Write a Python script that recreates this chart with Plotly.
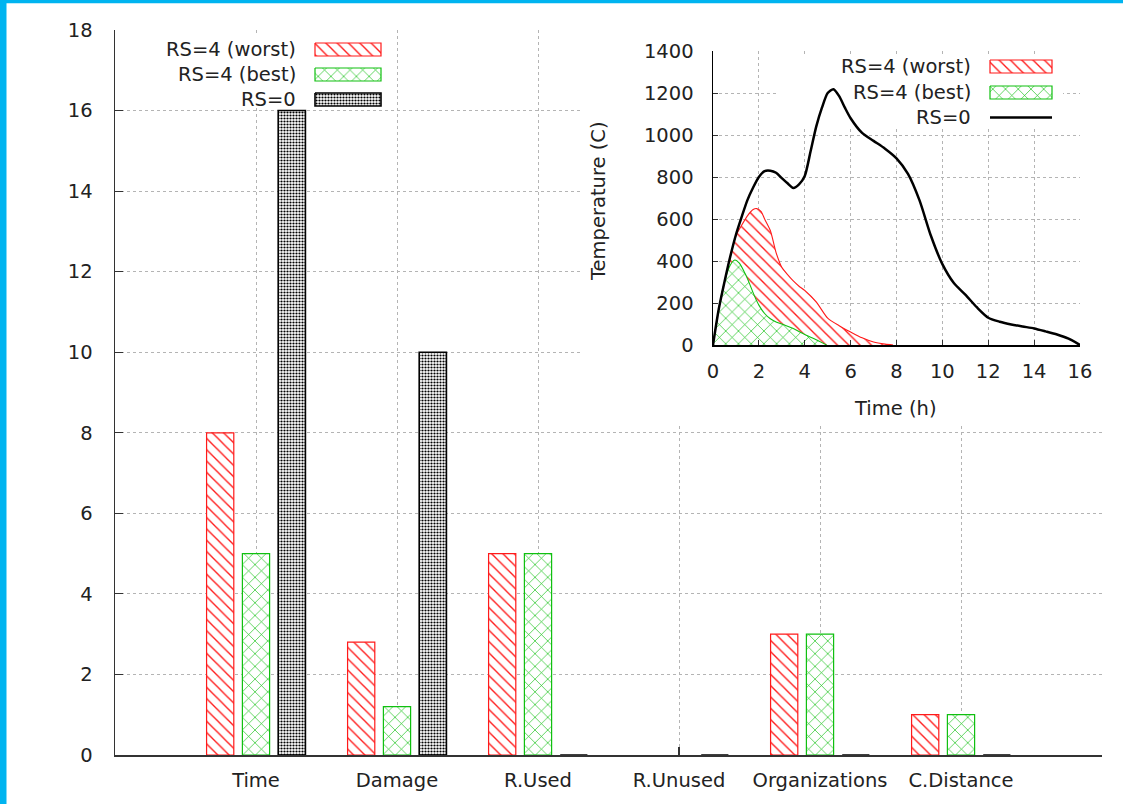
import plotly.graph_objects as go

# ---------------- data ----------------
categories = ["Time", "Damage", "R.Used", "R.Unused", "Organizations", "C.Distance"]
rs4_worst = [8, 2.8, 5, 0, 3, 1]
rs4_best = [5, 1.2, 5, 0, 3, 1]
rs0 = [16, 10, 0, 0, 0, 0]
series_names = ["RS=4 (worst)", "RS=4 (best)", "RS=0"]
main_y_ticks = list(range(0, 19, 2))

t_rs0 = [0, 0.25, 0.5, 0.75, 1, 1.25, 1.5, 1.75, 2, 2.25, 2.5, 2.75, 3, 3.25, 3.5, 3.75, 4, 4.25,
         4.5, 4.75, 5, 5.25, 5.5, 5.75, 6, 6.5, 7, 7.5, 8, 8.5, 9, 9.5, 10, 10.5, 11, 11.5, 12,
         12.5, 13, 13.5, 14, 14.5, 15, 15.5, 16]
temp_rs0 = [0, 170, 300, 420, 525, 610, 690, 750, 800, 828, 830, 820, 795, 770, 748, 765, 805, 920,
            1040, 1130, 1200, 1218, 1185, 1130, 1080, 1010, 972, 935, 889, 815, 690, 520, 385, 295,
            240, 180, 130, 111, 98, 88, 79, 65, 50, 30, 0]
t_worst = [0, 0.25, 0.5, 0.75, 1.0, 1.25, 1.5, 1.75, 1.9, 2.1, 2.25, 2.5, 2.75, 3.0, 3.25, 3.5,
           3.75, 4.0, 4.5, 5.0, 5.5, 6.0, 6.5, 7.0, 7.5, 7.85]
temp_worst = [0, 170, 300, 420, 520, 570, 615, 645, 650, 635, 600, 545, 440, 370, 335, 305, 280,
              260, 205, 128, 92, 62, 34, 14, 4, 0]
t_best = [0, 0.25, 0.5, 0.75, 0.95, 1.15, 1.4, 1.6, 1.8, 2.0, 2.25, 2.5, 2.75, 3.0, 3.5, 4.0, 4.5, 4.95]
temp_best = [0, 170, 300, 380, 405, 390, 340, 290, 235, 190, 150, 125, 110, 100, 78, 50, 25, 0]
inset_x_ticks = list(range(0, 17, 2))
inset_y_ticks = list(range(0, 1401, 200))

# ---------------- styling ----------------
W, H = 1123, 804
FONT = "DejaVu Sans"
TXT = "#222222"
RED = "#ff1a1a"
GREEN = "#10c010"
GRID = "#b4b4b4"
AXIS = "#333333"
FS = 19.5

red_pat = dict(shape="\\", fgcolor=RED, bgcolor="white", size=8, solidity=0.17, fillmode="replace")
green_pat = dict(shape="x", fgcolor=GREEN, bgcolor="white", size=9, solidity=0.14, fillmode="replace")
black_pat = dict(shape=".", fgcolor="black", bgcolor="white", size=3, solidity=0.42, fillmode="replace")

# pixel layout of the plotting areas
MAIN_X = (115, 1102)
MAIN_Y = (755, 30)
INS_X = (713, 1080)
INS_Y = (345, 51)


def dom_x(px):
    return [px[0] / W, px[1] / W]


def dom_y(py):
    return [1 - py[0] / H, 1 - py[1] / H]


def rect(x0, y0, x1, y1):
    return [x0, x1, x1, x0, x0], [y0, y0, y1, y1, y0]


def ins_px(xp, yp):
    # convert pixel location to inset data coordinates (for the opaque key box)
    t = (xp - INS_X[0]) / (INS_X[1] - INS_X[0]) * 16
    v = (INS_Y[0] - yp) / (INS_Y[0] - INS_Y[1]) * 1400
    return t, v


fig = go.Figure()

# ---------------- main bar chart (xy) ----------------
patterns = [red_pat, green_pat, black_pat]
colors = [RED, GREEN, "black"]
widths = [1.2, 1.2, 1.6]
for i, (name, vals, pat) in enumerate(zip(series_names, [rs4_worst, rs4_best, rs0], patterns)):
    # outlines of empty coloured bars are hidden behind the axis in the original
    lw = [widths[i] if (v != 0 or i == 2) else 0 for v in vals]
    fig.add_trace(go.Bar(x=categories, y=vals, name=name, showlegend=False,
                         marker=dict(color="white", pattern=pat,
                                     line=dict(color=colors[i], width=lw)),
                         xaxis="x", yaxis="y", hoverinfo="skip"))

# ---------------- overlay A (x2y2): opaque boxes + main key swatches ----------------
bx, by = rect(126, 36, 392, 108)
fig.add_trace(go.Scatter(x=bx, y=by, fill="toself", fillcolor="white", mode="lines",
                         line=dict(width=0, color="white"), xaxis="x2", yaxis="y2",
                         showlegend=False, hoverinfo="skip"))
bx, by = rect(582, 22, 1106, 426)
fig.add_trace(go.Scatter(x=bx, y=by, fill="toself", fillcolor="white", mode="lines",
                         line=dict(width=0, color="white"), xaxis="x2", yaxis="y2",
                         showlegend=False, hoverinfo="skip"))
main_key_rows = [49.5, 74.5, 99.5]
for yc, pat, c, w in zip(main_key_rows, patterns, colors, widths):
    bx, by = rect(315, yc - 6.5, 381, yc + 6.5)
    fig.add_trace(go.Scatter(x=bx, y=by, fill="toself", fillcolor="white", fillpattern=pat,
                             mode="lines", line=dict(color=c, width=w), xaxis="x2", yaxis="y2",
                             showlegend=False, hoverinfo="skip"))

# ---------------- inset (x3y3) ----------------
(k0x, k0y), (k1x, k1y) = ins_px(778, 127), ins_px(1063, 55)
bx, by = rect(k0x, k0y, k1x, k1y)
fig.add_trace(go.Scatter(x=bx, y=by, fill="toself", fillcolor="white", mode="lines",
                         line=dict(width=0, color="white"), xaxis="x3", yaxis="y3",
                         showlegend=False, hoverinfo="skip"))
fig.add_trace(go.Scatter(x=t_worst, y=temp_worst, name=series_names[0], mode="lines",
                         line=dict(color=RED, width=1.1, shape="spline", smoothing=0.7),
                         fill="tozeroy", fillcolor="white", fillpattern=red_pat,
                         xaxis="x3", yaxis="y3", showlegend=False, hoverinfo="skip"))
fig.add_trace(go.Scatter(x=t_best, y=temp_best, name=series_names[1], mode="lines",
                         line=dict(color=GREEN, width=1.1, shape="spline", smoothing=0.7),
                         fill="tozeroy", fillcolor="white", fillpattern=green_pat,
                         xaxis="x3", yaxis="y3", showlegend=False, hoverinfo="skip"))
fig.add_trace(go.Scatter(x=t_rs0, y=temp_rs0, name=series_names[2], mode="lines",
                         line=dict(color="black", width=2.5, shape="spline", smoothing=0.7),
                         xaxis="x3", yaxis="y3", showlegend=False, hoverinfo="skip"))

# ---------------- overlay B (x4y4): inset key swatches ----------------
ins_key_rows = [66.5, 92.5, 117.5]
for yc, pat, c, w in zip(ins_key_rows[:2], patterns[:2], colors[:2], widths[:2]):
    bx, by = rect(990, yc - 6.5, 1052, yc + 6.5)
    fig.add_trace(go.Scatter(x=bx, y=by, fill="toself", fillcolor="white", fillpattern=pat,
                             mode="lines", line=dict(color=c, width=w), xaxis="x4", yaxis="y4",
                             showlegend=False, hoverinfo="skip"))
fig.add_trace(go.Scatter(x=[990, 1052], y=[ins_key_rows[2]] * 2, mode="lines",
                         line=dict(color="black", width=2.5), xaxis="x4", yaxis="y4",
                         showlegend=False, hoverinfo="skip"))

# ---------------- annotations (key texts, inset titles) ----------------
ann = []
for name, yc in zip(series_names, main_key_rows):
    ann.append(dict(x=298, y=yc, xref="x2", yref="y2", text=name, showarrow=False,
                    xanchor="right", yanchor="middle", font=dict(family=FONT, size=FS, color=TXT)))
for name, yc in zip(series_names, ins_key_rows):
    ann.append(dict(x=973, y=yc, xref="x4", yref="y4", text=name, showarrow=False,
                    xanchor="right", yanchor="middle", font=dict(family=FONT, size=FS, color=TXT)))
ann.append(dict(x=895, y=408, xref="x4", yref="y4", text="Time (h)", showarrow=False,
                xanchor="center", yanchor="middle", font=dict(family=FONT, size=FS, color=TXT)))
ann.append(dict(x=598, y=201, xref="x4", yref="y4", text="Temperature (C)", showarrow=False,
                textangle=-90, xanchor="center", yanchor="middle",
                font=dict(family=FONT, size=FS, color=TXT)))

overlay_axis = dict(domain=[0, 1], visible=False, fixedrange=True, showgrid=False, zeroline=False)

fig.update_layout(
    width=W, height=H,
    margin=dict(l=0, r=0, t=0, b=0, pad=0),
    paper_bgcolor="white", plot_bgcolor="rgba(0,0,0,0)",
    barmode="group", bargap=0.238, bargroupgap=0.24,
    showlegend=False,
    font=dict(family=FONT, size=FS, color=TXT),
    xaxis=dict(domain=dom_x(MAIN_X), anchor="y", type="category", range=[-1.0, 6.0],
               showgrid=True, gridcolor=GRID, griddash="dot", gridwidth=1,
               showline=True, linecolor=AXIS, linewidth=1.5, mirror=False,
               ticks="inside", ticklen=8, tickwidth=1.2, tickcolor=AXIS, layer="below traces",
               ticklabelstandoff=7, tickfont=dict(family=FONT, size=FS, color=TXT),
               automargin=False, fixedrange=True, zeroline=False),
    yaxis=dict(domain=dom_y(MAIN_Y), anchor="x", range=[0, 18], tickvals=main_y_ticks,
               showgrid=True, gridcolor=GRID, griddash="dot", gridwidth=1,
               showline=True, linecolor=AXIS, linewidth=1.5,
               ticks="inside", ticklen=8, tickwidth=1.2, tickcolor=AXIS,
               ticklabelstandoff=17, tickfont=dict(family=FONT, size=FS, color=TXT),
               automargin=False, fixedrange=True, zeroline=False),
    xaxis2=dict(overlay_axis, anchor="y2", range=[0, W]),
    yaxis2=dict(overlay_axis, anchor="x2", range=[H, 0]),
    xaxis3=dict(domain=dom_x(INS_X), anchor="y3", range=[0, 16], tickvals=inset_x_ticks,
                showgrid=True, gridcolor=GRID, griddash="dot", gridwidth=1,
                showline=True, linecolor="black", linewidth=1.5,
                ticks="inside", ticklen=5, tickwidth=1, tickcolor=AXIS,
                ticklabelstandoff=8, tickfont=dict(family=FONT, size=FS, color=TXT),
                automargin=False, fixedrange=True, zeroline=False),
    yaxis3=dict(domain=dom_y(INS_Y), anchor="x3", range=[0, 1400], tickvals=inset_y_ticks,
                showgrid=True, gridcolor=GRID, griddash="dot", gridwidth=1,
                showline=True, linecolor="black", linewidth=1.5,
                ticks="inside", ticklen=5, tickwidth=1, tickcolor=AXIS,
                ticklabelstandoff=14, tickfont=dict(family=FONT, size=FS, color=TXT),
                automargin=False, fixedrange=True, zeroline=False),
    xaxis4=dict(overlay_axis, anchor="y4", range=[0, W]),
    yaxis4=dict(overlay_axis, anchor="x4", range=[H, 0]),
    annotations=ann,
    shapes=[
        dict(type="rect", xref="paper", yref="paper", x0=0, x1=1, y0=1 - 3.3 / H, y1=1,
             fillcolor="#00b4f0", line=dict(width=0), layer="above"),
        dict(type="rect", xref="paper", yref="paper", x0=0, x1=6.5 / W, y0=0, y1=1,
             fillcolor="#00b4f0", line=dict(width=0), layer="above"),
    ],
)

fig.write_html("out.html", config={"displayModeBar": False, "staticPlot": True},
               post_script="document.body.style.margin='0';document.body.style.overflow='hidden';")
